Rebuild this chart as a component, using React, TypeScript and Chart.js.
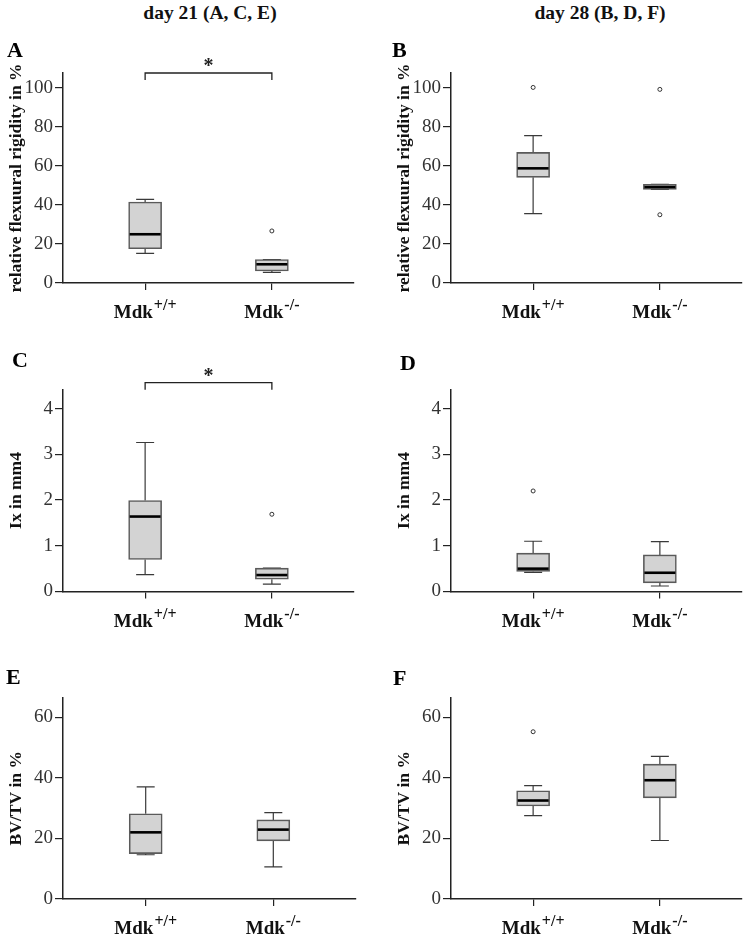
import React, { useEffect, useRef } from "react";
import { Chart, registerables } from "chart.js";

Chart.register(...registerables);

// ---------- data ----------
const groupLabels = ["+/+", "-/-"];
const groupPositions = [1, 2];

// each box: [lower whisker, Q1, median, Q3, upper whisker]
const boxA_wt = [15.2, 17.6, 25.0, 41.5, 42.9];
const boxA_ko = [5.5, 6.2, 9.6, 12.0, 12.0];
const outliersA = [[], [26.7]];

const boxB_wt = [35.6, 54.2, 58.8, 67.0, 75.6];
const boxB_ko = [48.0, 48.0, 49.2, 50.6, 50.6];
const outliersB = [[100.3], [99.3, 35.0]];

const boxC_wt = [0.37, 0.7, 1.64, 1.99, 3.26];
const boxC_ko = [0.16, 0.27, 0.36, 0.51, 0.51];
const outliersC = [[], [1.69]];

const boxD_wt = [0.42, 0.44, 0.5, 0.84, 1.1];
const boxD_ko = [0.12, 0.19, 0.41, 0.8, 1.09];
const outliersD = [[2.2], []];

const boxE_wt = [14.6, 15.0, 22.0, 28.1, 37.0];
const boxE_ko = [10.6, 19.2, 22.9, 26.1, 28.5];
const outliersE = [[], []];

const boxF_wt = [27.5, 30.7, 32.5, 35.7, 37.4];
const boxF_ko = [19.3, 33.4, 39.2, 44.5, 47.1];
const outliersF = [[55.2], []];

const ticksRigidity = [0, 20, 40, 60, 80, 100];
const ticksIx = [0, 1, 2, 3, 4];
const ticksBVTV = [0, 20, 40, 60];

const maxRigidity = 107.7;
const maxIx = 4.42;
const maxBVTV = 66.5;

const titleRigidity = "relative flexuural rigidity in %";
const titleIx = "Ix in mm4";
const titleBVTV = "BV/TV in %";

const columnTitles = ["day 21 (A, C, E)", "day 28 (B, D, F)"];

// ---------- layout ----------
const SERIF = "'Liberation Serif', 'DejaVu Serif', serif";
const CANVAS_W = 359;
const colLeft = [0, 388];
const rows = [
  { canvasTop: 36, height: 287, areaTop: 73, areaBottom: 283 },
  { canvasTop: 330, height: 302, areaTop: 389.5, areaBottom: 591.5 },
  { canvasTop: 640, height: 297, areaTop: 697.5, areaBottom: 899 },
];

type PanelDef = {
  letter: string;
  letterX: number;
  letterY: number;
  row: number;
  col: number;
  boxes: number[][];
  outliers: number[][];
  ticks: number[];
  yMax: number;
  yTitle: string;
  sigY: number | null;
};

const panels: PanelDef[] = [
  { letter: "A", letterX: 7, letterY: 57, row: 0, col: 0, boxes: [boxA_wt, boxA_ko], outliers: outliersA, ticks: ticksRigidity, yMax: maxRigidity, yTitle: titleRigidity, sigY: 107.7 },
  { letter: "B", letterX: 4, letterY: 57, row: 0, col: 1, boxes: [boxB_wt, boxB_ko], outliers: outliersB, ticks: ticksRigidity, yMax: maxRigidity, yTitle: titleRigidity, sigY: null },
  { letter: "C", letterX: 12, letterY: 367, row: 1, col: 0, boxes: [boxC_wt, boxC_ko], outliers: outliersC, ticks: ticksIx, yMax: maxIx, yTitle: titleIx, sigY: 4.57 },
  { letter: "D", letterX: 12, letterY: 370, row: 1, col: 1, boxes: [boxD_wt, boxD_ko], outliers: outliersD, ticks: ticksIx, yMax: maxIx, yTitle: titleIx, sigY: null },
  { letter: "E", letterX: 6, letterY: 684, row: 2, col: 0, boxes: [boxE_wt, boxE_ko], outliers: outliersE, ticks: ticksBVTV, yMax: maxBVTV, yTitle: titleBVTV, sigY: null },
  { letter: "F", letterX: 5, letterY: 685, row: 2, col: 1, boxes: [boxF_wt, boxF_ko], outliers: outliersF, ticks: ticksBVTV, yMax: maxBVTV, yTitle: titleBVTV, sigY: null },
];

function extrasPlugin(p: PanelDef) {
  const row = rows[p.row];
  return {
    id: "boxExtras" + p.letter,
    beforeDatasetsDraw(chart: any) {
      const { ctx } = chart;
      const xs = chart.scales.x;
      const ys = chart.scales.y;
      ctx.save();
      ctx.strokeStyle = "#3a3a3a";
      ctx.lineWidth = 1.2;
      p.boxes.forEach((b, i) => {
        const x = xs.getPixelForValue(groupPositions[i]);
        const yMin = ys.getPixelForValue(b[0]);
        const yQ1 = ys.getPixelForValue(b[1]);
        const yQ3 = ys.getPixelForValue(b[3]);
        const yMaxP = ys.getPixelForValue(b[4]);
        ctx.beginPath();
        ctx.moveTo(x, yMin);
        ctx.lineTo(x, yQ1);
        ctx.moveTo(x, yQ3);
        ctx.lineTo(x, yMaxP);
        ctx.moveTo(x - 9, yMin);
        ctx.lineTo(x + 9, yMin);
        ctx.moveTo(x - 9, yMaxP);
        ctx.lineTo(x + 9, yMaxP);
        ctx.stroke();
      });
      ctx.restore();
    },
    afterDatasetsDraw(chart: any) {
      const { ctx, chartArea } = chart;
      const xs = chart.scales.x;
      const ys = chart.scales.y;
      ctx.save();
      // medians
      ctx.strokeStyle = "#000";
      ctx.lineWidth = 2.6;
      p.boxes.forEach((b, i) => {
        const x = xs.getPixelForValue(groupPositions[i]);
        const y = ys.getPixelForValue(b[2]);
        ctx.beginPath();
        ctx.moveTo(x - 15.5, y);
        ctx.lineTo(x + 15.5, y);
        ctx.stroke();
      });
      // significance bracket
      if (p.sigY !== null) {
        const x1 = xs.getPixelForValue(groupPositions[0]);
        const x2 = xs.getPixelForValue(groupPositions[1]);
        const y = ys.getPixelForValue(p.sigY);
        ctx.strokeStyle = "#222";
        ctx.lineWidth = 1.3;
        ctx.beginPath();
        ctx.moveTo(x1, y + 7);
        ctx.lineTo(x1, y);
        ctx.lineTo(x2, y);
        ctx.lineTo(x2, y + 7);
        ctx.stroke();
        ctx.fillStyle = "#222";
        ctx.font = `bold 20px ${SERIF}`;
        ctx.textAlign = "center";
        ctx.textBaseline = "alphabetic";
        ctx.fillText("*", (x1 + x2) / 2, y - 1);
      }
      // x category labels with superscript
      ctx.fillStyle = "#111";
      ctx.textBaseline = "alphabetic";
      ctx.textAlign = "left";
      groupLabels.forEach((lab, i) => {
        const x = xs.getPixelForValue(groupPositions[i]);
        ctx.font = `bold 19px ${SERIF}`;
        const w1 = ctx.measureText("Mdk").width;
        ctx.font = `bold 16px ${SERIF}`;
        const w2 = ctx.measureText(lab).width;
        const start = x - (w1 + 1 + w2) / 2;
        const base = chartArea.bottom + 35;
        ctx.font = `bold 19px ${SERIF}`;
        ctx.fillText("Mdk", start, base);
        ctx.font = `bold 16px ${SERIF}`;
        ctx.fillText(lab, start + w1 + 1, base - 8);
      });
      // panel letter
      ctx.font = `bold 22px ${SERIF}`;
      ctx.fillStyle = "#000";
      ctx.textAlign = "left";
      ctx.fillText(p.letter, p.letterX, p.letterY - row.canvasTop);
      ctx.restore();
    },
  };
}

function Panel({ p }: { p: PanelDef }) {
  const ref = useRef<HTMLCanvasElement>(null);
  const row = rows[p.row];
  useEffect(() => {
    const xAxisH = row.canvasTop + row.height - row.areaBottom;
    const chart = new Chart(ref.current as HTMLCanvasElement, {
      type: "bar",
      data: {
        datasets: [
          {
            type: "bar",
            data: p.boxes.map((b, i) => ({ x: groupPositions[i], y: [b[1], b[3]] })),
            backgroundColor: "#d3d3d3",
            borderColor: "#5a5a5a",
            borderWidth: 1.6,
            borderSkipped: false,
            barThickness: 33,
          } as any,
          {
            type: "scatter",
            data: p.outliers.flatMap((arr, i) => arr.map((v) => ({ x: groupPositions[i], y: v }))),
            pointRadius: 2,
            pointBackgroundColor: "#ffffff",
            pointBorderColor: "#333",
            pointBorderWidth: 1,
            showLine: false,
            clip: false,
          } as any,
        ],
      },
      options: {
        responsive: false,
        animation: false,
        devicePixelRatio: 1,
        layout: { padding: { top: row.areaTop - row.canvasTop, left: 0, right: 3, bottom: 0 } },
        plugins: { legend: { display: false }, tooltip: { enabled: false } },
        scales: {
          x: {
            type: "linear",
            min: 0.352,
            max: 2.648,
            offset: false,
            grid: { display: true, drawOnChartArea: false, drawTicks: true, tickLength: 7, color: "#222", lineWidth: 1.2, offset: false },
            border: { display: true, color: "#222", width: 1.5 },
            ticks: { display: false },
            afterBuildTicks: (s: any) => {
              s.ticks = groupPositions.map((v) => ({ value: v }));
            },
            afterFit: (s: any) => {
              s.height = xAxisH;
            },
          },
          y: {
            type: "linear",
            min: 0,
            max: p.yMax,
            grid: { display: true, drawOnChartArea: false, drawTicks: true, tickLength: 8, color: "#222", lineWidth: 1.2 },
            border: { display: true, color: "#222", width: 1.5 },
            ticks: { font: { family: SERIF, size: 19 }, color: "#333", padding: 2 },
            afterBuildTicks: (s: any) => {
              s.ticks = p.ticks.map((v) => ({ value: v }));
            },
            afterFit: (s: any) => {
              s.width = 63;
            },
            title: {
              display: true,
              text: p.yTitle,
              font: { family: SERIF, size: 17.5, weight: "bold" },
              color: "#111",
              padding: { top: 6, bottom: 0 },
            },
          },
        },
      } as any,
      plugins: [extrasPlugin(p) as any],
    });
    return () => chart.destroy();
  }, []);
  return (
    <canvas
      ref={ref}
      width={CANVAS_W}
      height={row.height}
      style={{ position: "absolute", left: colLeft[p.col], top: row.canvasTop, width: CANVAS_W, height: row.height }}
    />
  );
}

export default function App() {
  return (
    <div style={{ position: "absolute", left: 0, top: 0, width: 747, height: 937, background: "#fff", overflow: "hidden" }}>
      {columnTitles.map((t, i) => (
        <div
          key={t}
          style={{
            position: "absolute",
            top: 2,
            left: i === 0 ? 210 : 600,
            transform: "translateX(-50%)",
            whiteSpace: "nowrap",
            fontFamily: SERIF,
            fontWeight: "bold",
            fontSize: 19.5,
            color: "#111",
          }}
        >
          {t}
        </div>
      ))}
      {panels.map((p) => (
        <Panel key={p.letter} p={p} />
      ))}
    </div>
  );
}
